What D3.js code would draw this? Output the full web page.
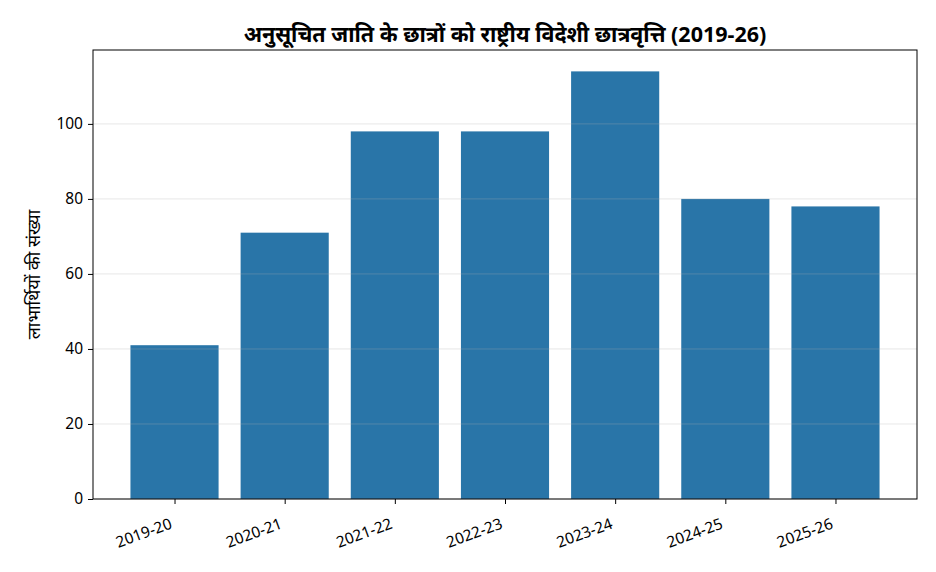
<!DOCTYPE html>
<html>
<head>
<meta charset="utf-8">
<script src="https://cdn.jsdelivr.net/npm/d3@7"></script>
<style>
  body { margin: 0; background: #fff; }
  text { font-family: "Noto Sans", "DejaVu Sans", sans-serif; }
</style>
</head>
<body>
<div id="chart"></div>
<script>
// years on the x axis and number of beneficiaries per year
var years = ['2019-20', '2020-21', '2021-22', '2022-23', '2023-24', '2024-25', '2025-26'],
    students = [41, 71, 98, 98, 114, 80, 78],
    yTicks = [0, 20, 40, 60, 80, 100];

var titleText = 'अनुसूचित जाति के छात्रों को राष्ट्रीय विदेशी छात्रवृत्ति (2019-26)',
    yLabelText = 'लाभार्थियों की संख्या';

var width = 936,
    height = 572,
    margin = {top: 50, right: 19, bottom: 73, left: 93},
    plotW = width - margin.left - margin.right,
    plotH = height - margin.top - margin.bottom;

var svg = d3.select('#chart')
  .append('svg')
    .attr('width', width)
    .attr('height', height);

var g = svg.append('g')
    .attr('transform', 'translate(' + margin.left + ',' + margin.top + ')');

// matplotlib-like: bar width 0.8, 5% margins on each side
var x = d3.scaleLinear()
    .domain([-0.74, years.length - 1 + 0.74])
    .range([0, plotW]);

var y = d3.scaleLinear()
    .domain([0, d3.max(students) * 1.05])
    .range([plotH, 0]);

var barW = x(0.8) - x(0);

g.selectAll('rect.bar')
  .data(students)
  .enter()
    .append('rect')
      .attr('class', 'bar')
      .attr('x', function(d, i) { return x(i) - barW / 2; })
      .attr('y', function(d) { return y(d); })
      .attr('width', barW)
      .attr('height', function(d) { return plotH - y(d); })
      .style('fill', '#2975a8');

// light grid drawn over the bars
g.selectAll('line.grid')
  .data(yTicks)
  .enter()
    .append('line')
      .attr('class', 'grid')
      .attr('x1', 0)
      .attr('x2', plotW)
      .attr('y1', function(d) { return y(d); })
      .attr('y2', function(d) { return y(d); })
      .style('stroke', '#b0b0b0')
      .style('stroke-opacity', 0.3)
      .style('stroke-width', 1);

var yAxis = g.append('g')
    .call(d3.axisLeft(y).tickValues(yTicks).tickSize(5).tickPadding(5));

var xAxis = g.append('g')
    .attr('transform', 'translate(0,' + plotH + ')')
    .call(d3.axisBottom(x)
      .tickValues(d3.range(years.length))
      .tickFormat(function(i) { return years[i]; })
      .tickSize(5)
      .tickPadding(4));

[yAxis, xAxis].forEach(function(a) {
  a.select('.domain').remove();
  a.selectAll('line').style('stroke', '#000').style('stroke-width', 1);
  a.selectAll('text')
    .style('font-size', '15.5px')
    .style('fill', '#000')
    .style('font-family', '"Noto Sans", "DejaVu Sans", sans-serif');
});

xAxis.selectAll('text')
    .attr('text-anchor', 'end')
    .attr('dy', null)
    .attr('y', 0)
    .attr('transform', 'translate(-2,29) rotate(-20)');

// frame
g.append('rect')
    .attr('width', plotW)
    .attr('height', plotH)
    .style('fill', 'none')
    .style('stroke', '#000')
    .style('stroke-width', 1);

svg.append('text')
    .attr('x', margin.left + plotW / 2)
    .attr('y', 42)
    .attr('text-anchor', 'middle')
    .style('font-size', '21.5px')
    .style('font-weight', 'bold')
    .text(titleText);

svg.append('text')
    .attr('transform', 'translate(40,' + (margin.top + plotH / 2) + ') rotate(-90)')
    .attr('text-anchor', 'middle')
    .style('font-size', '17.8px')
    .text(yLabelText);
</script>
</body>
</html>
